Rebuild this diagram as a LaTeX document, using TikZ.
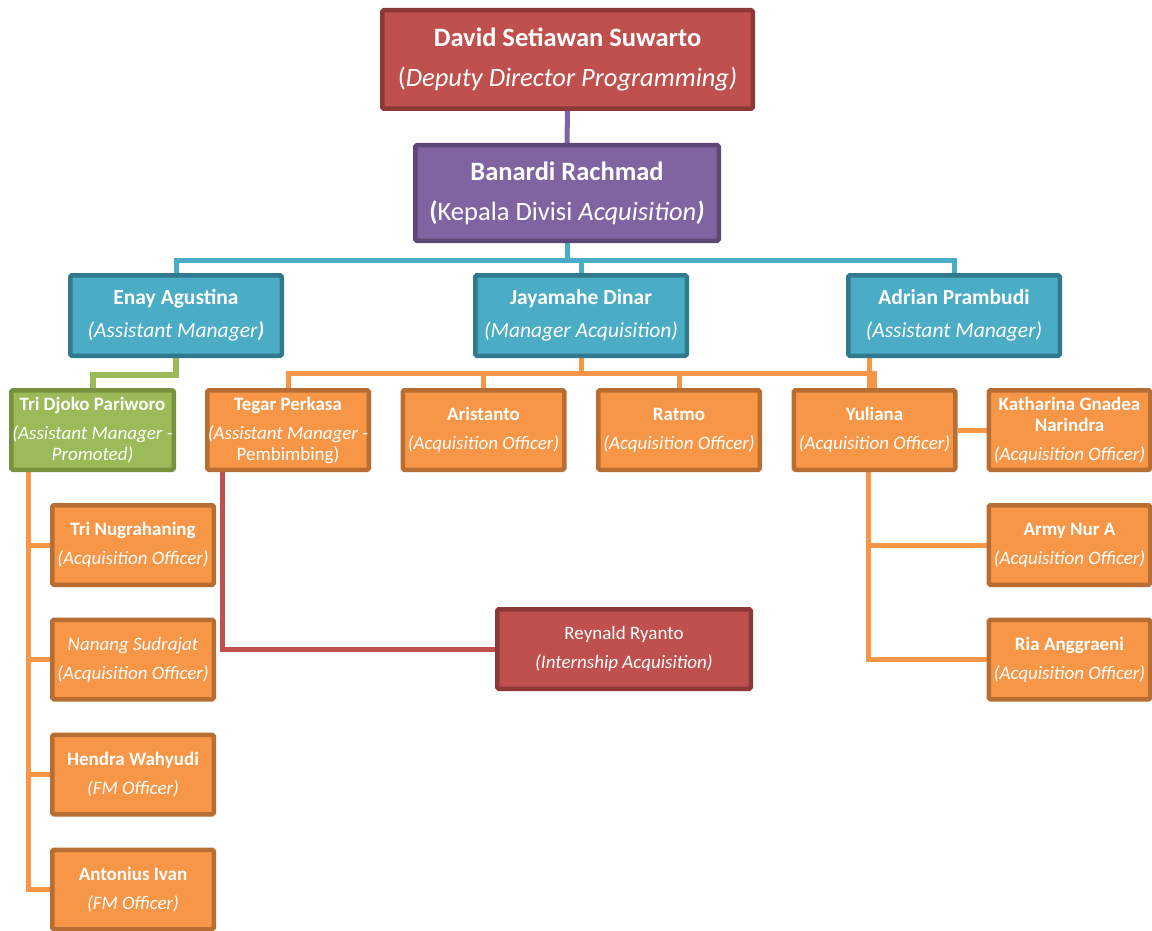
\documentclass[tikz,border=0pt]{standalone}
\usepackage{fontspec}
\setmainfont{Carlito}
\usetikzlibrary{calc,shadows}
\definecolor{redF}{HTML}{C0504D}\definecolor{redD}{HTML}{8C3836}
\definecolor{purF}{HTML}{8064A2}\definecolor{purD}{HTML}{5C4776}
\definecolor{bluF}{HTML}{4BACC6}\definecolor{bluD}{HTML}{31798D}
\definecolor{grnF}{HTML}{9BBB59}\definecolor{grnD}{HTML}{76923C}
\definecolor{orgF}{HTML}{F79646}\definecolor{orgD}{HTML}{B86E32}
\pgfdeclarelayer{bg}\pgfsetlayers{bg,main}
\tikzset{
  box/.style={draw, line width=4.5pt, rounded corners=1.5pt, text=white, align=center, inner sep=0pt,
    drop shadow={shadow xshift=1.2pt, shadow yshift=-1.5pt, opacity=0.25}},
  big/.style={box, font=\fontsize{26.5}{30}\selectfont},
  mid/.style={box, font=\fontsize{21.5}{24}\selectfont, minimum width=211.5pt, minimum height=80.5pt, fill=bluF, draw=bluD},
  sml/.style={box, font=\fontsize{19}{21}\selectfont, minimum width=161.5pt, minimum height=79.5pt, fill=orgF, draw=orgD},
  conn/.style={line width=5pt},
}
\begin{document}
\begin{tikzpicture}[x=1pt,y=-1pt]
\useasboundingbox (0,0) rectangle (1152,931);
% level 1-2
\node[big, fill=redF, draw=redD, minimum width=370.5pt, minimum height=98.5pt] (david) at (567.5,59.5)
  {\textbf{David Setiawan Suwarto}\\[10pt](\textit{Deputy Director Programming)}};
\node[big, fill=purF, draw=purD, minimum width=303.5pt, minimum height=95.5pt] (banardi) at (567,193)
  {\textbf{Banardi Rachmad}\\[10pt]\textbf{(}Kepala Divisi \textit{Acquisition}\textbf{\textit{)}}};
% level 2
\node[mid] (enay) at (176,315.5) {\textbf{Enay Agustina}\\[9pt]\textit{(Assistant Manager}\textbf{\textit{)}}};
\node[mid] (jaya) at (581,315.5) {\textbf{Jayamahe Dinar}\\[9pt]\textit{(Manager Acquisition)}};
\node[mid] (adrian) at (954,315.5) {\textbf{Adrian Prambudi}\\[9pt]\textit{(Assistant Manager)}};
% level 3
\node[sml, fill=grnF, draw=grnD, minimum width=162.5pt] (djoko) at (92.5,430)
  {\textbf{Tri Djoko Pariworo}\\[8pt]\textit{(Assistant Manager -}\\\textit{Promoted)}};
\node[sml] (tegar) at (288,430) {\textbf{Tegar Perkasa}\\[8pt]\textit{(Assistant Manager -}\\Pembimbing)};
\node[sml] (aris) at (483.5,430) {\textbf{Aristanto}\\[8pt]\textit{(Acquisition Officer)}};
\node[sml] (ratmo) at (679,430) {\textbf{Ratmo}\\[8pt]\textit{(Acquisition Officer)}};
\node[sml] (yuli) at (874.5,430) {\textbf{Yuliana}\\[8pt]\textit{(Acquisition Officer)}};
\node[sml] (kath) at (1069.5,430) {\textbf{Katharina Gnadea}\\\textbf{Narindra}\\[8pt]\textit{(Acquisition Officer)}};
% left column
\node[sml] (nugra) at (133,545) {\textbf{Tri Nugrahaning}\\[8pt]\textit{(Acquisition Officer)}};
\node[sml] (nanang) at (133,659.5) {\textit{Nanang Sudrajat}\\[8pt]\textit{(Acquisition Officer)}};
\node[sml] (hendra) at (133,774.5) {\textbf{Hendra Wahyudi}\\[8pt]\textit{(FM Officer)}};
\node[sml] (anton) at (133,889.5) {\textbf{Antonius Ivan}\\[8pt]\textit{(FM Officer)}};
% right column
\node[sml] (army) at (1069.5,545) {\textbf{Army Nur A}\\[8pt]\textit{(Acquisition Officer)}};
\node[sml] (ria) at (1069.5,659.5) {\textbf{Ria Anggraeni}\\[8pt]\textit{(Acquisition Officer)}};
% intern
\node[sml, fill=redF, draw=redD, minimum width=253.5pt] (rey) at (624,649) {Reynald Ryanto\\[8pt]\textit{(Internship Acquisition)}};
\coordinate (busB) at (567,260);
\coordinate (busJ) at (581,373);
\begin{pgfonlayer}{bg}
\draw[conn, purF] (david.south) -- (banardi.north);
\draw[conn, bluF] (banardi.south) -- (busB);
\draw[conn, bluF] (enay.north) |- (busB) -| (adrian.north);
\draw[conn, bluF] (jaya.north) |- (busB);
\draw[conn, grnF, line width=6pt] (enay.south) -- ++(0,17) -| (djoko.north);
\draw[conn, orgF] (jaya.south) -- (busJ);
\draw[conn, orgF] (tegar.north) |- (busJ) -| (yuli.north);
\draw[conn, orgF] (aris.north) |- (busJ);
\draw[conn, orgF] (ratmo.north) |- (busJ);
\draw[conn, orgF] ([xshift=-85pt]adrian.south) -- ([xshift=-5.5pt]yuli.north);
\draw[conn, orgF] (yuli.east) -- (kath.west);
\draw[conn, orgF] ([xshift=-6.5pt]yuli.south) |- (army.west);
\draw[conn, orgF] ([xshift=-6.5pt]yuli.south) |- (ria.west);
\draw[conn, orgF] ([xshift=-64.5pt]djoko.south) |- (nugra.west);
\draw[conn, orgF] ([xshift=-64.5pt]djoko.south) |- (nanang.west);
\draw[conn, orgF] ([xshift=-64.5pt]djoko.south) |- (hendra.west);
\draw[conn, orgF] ([xshift=-64.5pt]djoko.south) |- (anton.west);
\draw[conn, redF] ([xshift=-66pt]tegar.south) |- (rey.west);
\end{pgfonlayer}
\end{tikzpicture}
\end{document}
